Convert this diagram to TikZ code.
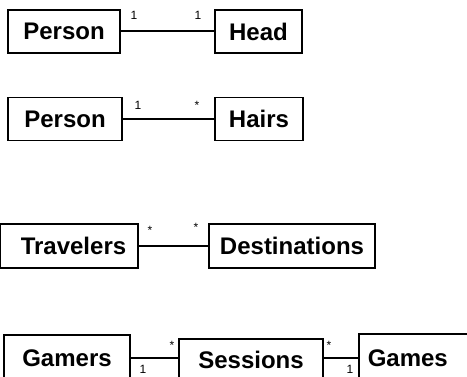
\documentclass[tikz,border=0pt]{standalone}
\usepackage{fontspec}
\setmainfont{Liberation Sans}
\begin{document}
\begin{tikzpicture}[x=1pt, y=-1pt,
        classbox/.style={draw, line width=1.6pt, inner sep=0pt, minimum height=43pt,
          font=\fontsize{24}{26}\selectfont\bfseries},
        assoc/.style={line width=2pt},
        mult/.style={anchor=base, inner sep=0pt, font=\fontsize{12}{13}\selectfont}
    ]
    \useasboundingbox (0,0) rectangle (467,377);

    % Person -- Head (1..1)
    \node[classbox, minimum width=112pt] (person1) at (64,31.5) {Person};
    \node[classbox, minimum width=87pt] (head) at (258.5,31.5) {Head};
    \draw[assoc] (person1) -- (head);
    \node[mult] (p1h) at (134,20) {1};
    \node[mult] (hp1) at (198,20) {1};

    % Person -- Hairs (1..*)
    \node[classbox, minimum width=114pt] (person2) at (65,119) {Person};
    \node[classbox, minimum width=88pt] (hairs) at (259,119) {Hairs};
    \draw[assoc] (person2) -- (hairs);
    \node[mult] (p2h) at (138,110) {1};
    \node[mult] (hp2) at (197,110) {*};

    % Travelers -- Destinations (*..*)
    \node[classbox, minimum height=44pt, text width=114.4pt, align=right, inner xsep=12pt,
          anchor=east] (travelers) at (139,246) {Travelers};
    \node[classbox, minimum width=166pt, minimum height=44pt] (destinations) at (292,246) {Destinations};
    \draw[assoc] (travelers) -- (destinations);
    \node[mult] (td) at (150,235) {*};
    \node[mult] (dt) at (196,232) {*};

    % Gamers -- Sessions -- Games
    \node[classbox, minimum width=126pt, minimum height=46pt] (gamers) at (67,358) {Gamers};
    \node[classbox, minimum width=144pt, minimum height=42pt] (sessions) at (251,360) {Sessions};
    \node[classbox, minimum height=49pt, text width=100pt, align=left, inner xsep=9pt,
          anchor=west] (games) at (358,358.5) {Games};
    \draw[assoc] (gamers.east) -- (gamers.east -| sessions.west);
    \draw[assoc] (sessions.east |- games.west) -- (games.west);
    \node[mult] (sg) at (172,349.7) {*};
    \node[mult] (gs) at (143,374) {1};
    \node[mult] (sgm) at (329,350) {*};
    \node[mult] (gms) at (350,374) {1};
\end{tikzpicture}
\end{document}
